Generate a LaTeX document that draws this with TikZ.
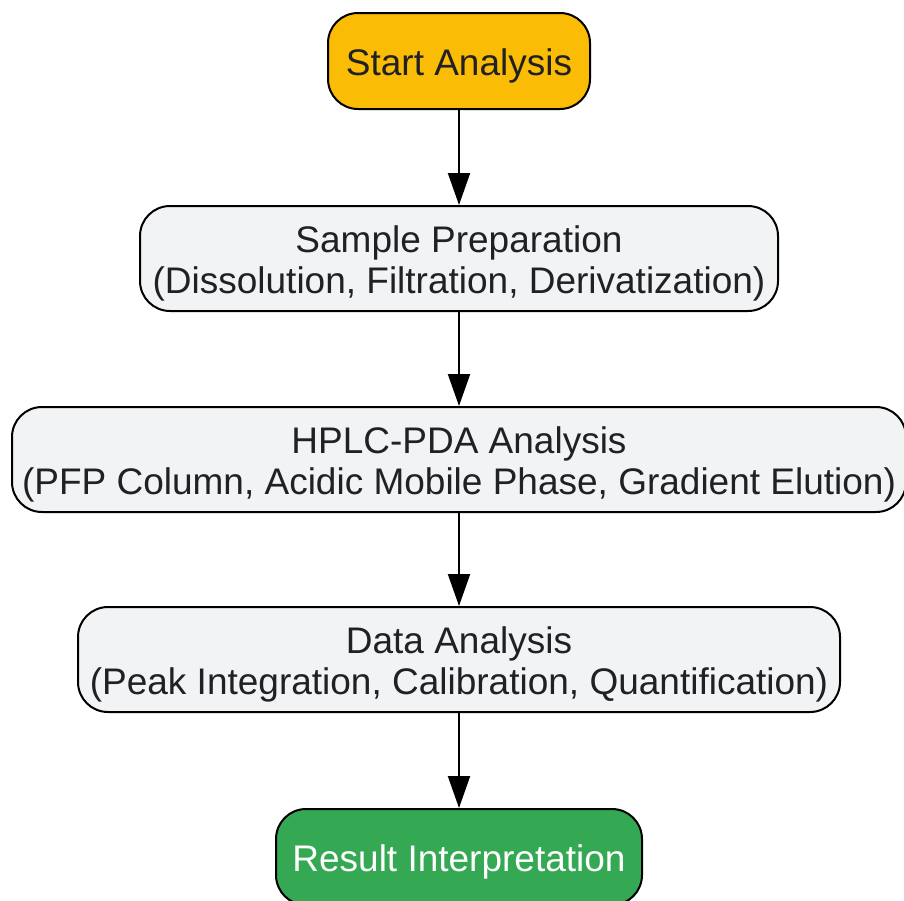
\documentclass[tikz,border=0pt]{standalone}
\usepackage{fontspec}
\setmainfont{Liberation Sans}
\usetikzlibrary{arrows.meta,positioning}
\definecolor{raStart}{HTML}{FBBC05}
\definecolor{raStep}{HTML}{F1F3F4}
\definecolor{raDone}{HTML}{34A853}
\definecolor{raText}{HTML}{202124}
\tikzset{
  ranode/.style={
    draw=black, line width=2pt, rounded corners=30pt, minimum height=105pt,
    inner sep=4pt, align=center, text=raText,
    font=\fontsize{37}{41}\selectfont
  },
  startnode/.style={ranode, fill=raStart, minimum height=96pt, text height=37pt},
  stepnode/.style={ranode, fill=raStep, text height=78pt},
  donenode/.style={ranode, fill=raDone, text=white, minimum height=96pt, text height=37pt},
  flow/.style={-{Triangle[length=32pt, width=22pt]}, line width=2pt, black}
}
\begin{document}
\begin{tikzpicture}
  \useasboundingbox (0,0) rectangle (904pt,-900pt);
  \node[startnode, minimum width=262pt] (start) at (459pt,-61pt) {Start Analysis};
  \node[stepnode, minimum width=638pt, below=95pt of start] (prep)
    {Sample Preparation\\(Dissolution, Filtration, Derivatization)};
  \node[stepnode, minimum width=894pt, below=94pt of prep] (hplc)
    {HPLC-PDA Analysis\\(PFP Column, Acidic Mobile Phase, Gradient Elution)};
  \node[stepnode, minimum width=762pt, below=93pt of hplc] (data)
    {Data Analysis\\(Peak Integration, Calibration, Quantification)};
  \node[donenode, minimum width=366pt, below=95pt of data] (result) {Result Interpretation};
  \foreach \a/\b in {start/prep, prep/hplc, hplc/data, data/result}{
    \draw[flow] (\a) -- (\b);
  }
\end{tikzpicture}
\end{document}
